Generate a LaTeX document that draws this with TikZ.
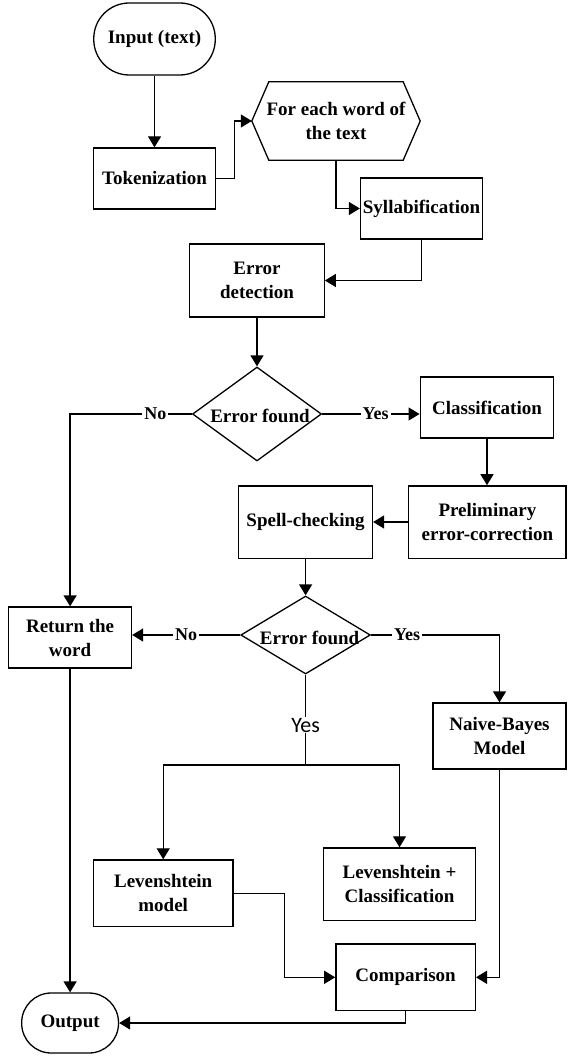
\documentclass[tikz,border=0pt]{standalone}
\usepackage{fontspec}
\setmainfont{Liberation Serif}
\newfontfamily\yesfont{Carlito}
\usetikzlibrary{arrows.meta,shapes.geometric,calc}
\tikzset{
  every picture/.style={x=1pt,y=-1pt},
  base/.style={draw,line width=1.3pt,inner sep=0pt,align=center,
    font=\bfseries\fontsize{19}{24}\selectfont},
  box/.style={base,rectangle},
  term/.style={base,rectangle,rounded corners=35.5pt},
  dia/.style={draw,line width=1.3pt,diamond,inner sep=0pt},
  diatext/.style={inner sep=0pt,font=\bfseries\fontsize{19}{24}\selectfont},
  hexnode/.style={rectangle,inner sep=0pt,align=center,
    font=\bfseries\fontsize{19}{24}\selectfont},
  conn/.style={line width=1.3pt},
  arr/.style={conn,-{Triangle[length=11pt,width=13pt]}},
  lbl/.style={fill=white,inner sep=2pt,font=\bfseries\fontsize{18}{20}\selectfont},
  sanslbl/.style={fill=white,inner sep=1pt,font=\yesfont\fontsize{22}{24}\selectfont},
}
\begin{document}
\begin{tikzpicture}
\useasboundingbox (0,0) rectangle (567,1059);
% nodes
\node[term,minimum width=121.5pt,minimum height=72pt] (in) at (154.5,39) {Input (text)};
\node[box,minimum width=122.5pt,minimum height=61pt] (tok) at (154.5,178.5) {Tokenization};
\node[hexnode,minimum width=168pt,minimum height=78pt] (hex) at (336,121) {For each word of\\the text};
\draw[conn] (hex.west) -- ([xshift=17pt]hex.north west) -- ([xshift=-17pt]hex.north east)
  -- (hex.east) -- ([xshift=-17pt]hex.south east) -- ([xshift=17pt]hex.south west) -- cycle;
\node[box,minimum width=122pt,minimum height=61pt] (syl) at (421.5,208.5) {Syllabification};
\node[box,minimum width=134.4pt,minimum height=73pt] (ed) at (257,280.5) {Error\\detection};
\node[dia,minimum width=129pt,minimum height=94pt] (d1) at (257,414) {};
\node[diatext] (d1t) at ([xshift=3pt,yshift=-2pt]d1.center) {Error found};
\node[box,minimum width=133.6pt,minimum height=61pt] (cls) at (487,407.5) {Classification};
\node[box,minimum width=157.3pt,minimum height=72.3pt] (pre) at (487.4,522) {Preliminary\\error-correction};
\node[box,minimum width=133.7pt,minimum height=72.3pt] (sp) at (305.6,522) {Spell-checking};
\node[dia,minimum width=129.6pt,minimum height=78pt] (d2) at (305.6,635) {};
\node[diatext] (d2t) at ([xshift=4pt,yshift=-3pt]d2.center) {Error found};
\node[box,minimum width=122.8pt,minimum height=61pt] (ret) at (70.1,637.5) {Return the\\word};
\node[box,minimum width=133pt,minimum height=66pt] (nb) at (499.5,736) {Naive-Bayes\\Model};
\node[box,minimum width=139.5pt,minimum height=66.7pt] (lm) at (163.2,893.3) {Levenshtein\\model};
\node[box,minimum width=151.8pt,minimum height=72.7pt] (lc) at (399.5,884.3) {Levenshtein +\\Classification};
\node[box,minimum width=139.5pt,minimum height=66.7pt] (cmp) at (405.6,977.3) {Comparison};
\node[term,minimum width=96.8pt,minimum height=60pt,rounded corners=29.5pt] (out) at (70.1,1023) {Output};
\coordinate (br) at (305.6,765);
% connectors
\draw[arr] (in.south) -- (in.south |- tok.north);
\draw[arr] (tok.east) -- ([xshift=18pt]tok.east) |- (hex.west);
\draw[arr] (hex.south) |- (syl.west);
\draw[arr] (syl.south) |- (ed.east);
\draw[arr] (ed.south) -- (d1.north);
\draw[arr] (d1.west) -| (ret.north) node[lbl,pos=0.15] {No};
\draw[arr] (d1.east) -- (d1.east -| cls.west) node[lbl,pos=0.55] {Yes};
\draw[arr] (cls.south) -- (cls.south |- pre.north);
\draw[arr] (pre.west) -- (sp.east);
\draw[arr] (sp.south) -- (d2.north);
\draw[arr] (d2.west) -- (d2.west -| ret.east) node[lbl,pos=0.5] {No};
\draw[arr] (d2.east) -| (nb.north) node[lbl,pos=0.14] {Yes};
\draw[conn] (d2.south) -- (br) node[sanslbl,pos=0.56] {Yes};
\draw[arr] (br) -| (lm.north);
\draw[arr] (br) -| (lc.north);
\draw[arr] (lm.east) -- ([xshift=51pt]lm.east) |- (cmp.west);
\draw[arr] (nb.south) |- (cmp.east);
\draw[arr] (cmp.south) |- (out.east);
\draw[arr] (ret.south) -- (ret.south |- out.north);
\end{tikzpicture}
\end{document}
